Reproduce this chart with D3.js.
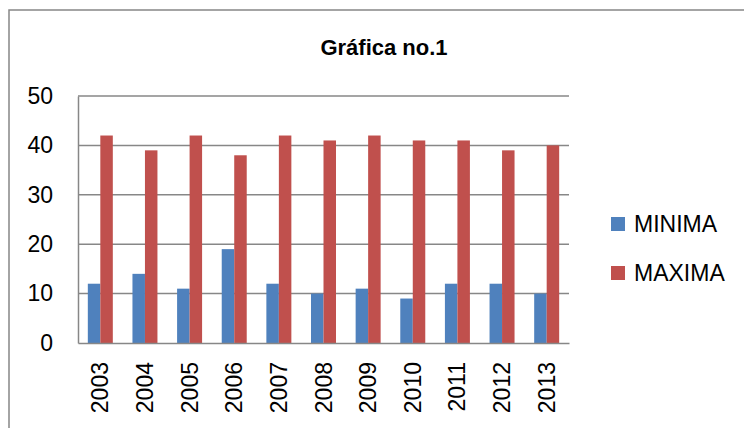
<!DOCTYPE html>
<html>
<head>
<meta charset="utf-8">
<script src="https://cdn.jsdelivr.net/npm/d3@7"></script>
<style>
  body { margin: 0; background: #fff; }
  svg { display: block; }
  text { font-family: "Liberation Sans", Arial, sans-serif; fill: #000; }
</style>
</head>
<body>
<svg id="chart" width="744" height="428"></svg>
<script>
'use strict';
// data
const years = ['2003', '2004', '2005', '2006', '2007', '2008', '2009', '2010', '2011', '2012', '2013'];
const seriesNames = ['MINIMA', 'MAXIMA'];
const minima = [12, 14, 11, 19, 12, 10, 11, 9, 12, 12, 10];
const maxima = [42, 39, 42, 38, 42, 41, 42, 41, 41, 39, 40];
const yTicks = [0, 10, 20, 30, 40, 50];
const colors = ['#4F81BD', '#C0504D'];

const rows = years.map((y, i) => ({ year: y, MINIMA: minima[i], MAXIMA: maxima[i] }));

const svg = d3.select('#chart');
const plot = { left: 78, right: 569, top: 96, bottom: 343 };
const grey = '#878787';

// outer chart frame (runs off the right and bottom edge)
svg.append('rect')
  .attr('x', 9).attr('y', 10)
  .attr('width', 800).attr('height', 500)
  .attr('fill', 'none')
  .attr('stroke', grey)
  .attr('stroke-width', 1.5);

const x = d3.scaleBand()
  .domain(years)
  .range([plot.left, plot.right])
  .padding(0);
const xInner = d3.scaleBand()
  .domain(seriesNames)
  .range([0, x.bandwidth()])
  .paddingInner(0)
  .paddingOuter(0.786);
const y = d3.scaleLinear()
  .domain([0, 50])
  .range([plot.bottom, plot.top]);

// gridlines
svg.append('g')
  .selectAll('line')
  .data(yTicks.filter(t => t > 0))
  .enter().append('line')
    .attr('x1', plot.left).attr('x2', plot.right)
    .attr('y1', d => y(d)).attr('y2', d => y(d))
    .attr('stroke', grey)
    .attr('stroke-width', 1.5);

// y axis
const yAxis = svg.append('g')
  .attr('transform', `translate(${plot.left},0)`)
  .call(d3.axisLeft(y).tickValues(yTicks).tickSize(0).tickPadding(25));
yAxis.select('.domain').attr('stroke', grey).attr('stroke-width', 1.5);
yAxis.selectAll('text')
  .attr('font-size', 23)
  .attr('font-family', '"Liberation Sans", Arial, sans-serif')
  .attr('fill', '#000');

// bars
svg.append('g')
  .selectAll('g')
  .data(seriesNames)
  .enter().append('g')
    .attr('fill', (d, i) => colors[i])
    .selectAll('rect')
    .data(s => rows.map(r => ({ key: s, year: r.year, value: r[s] })))
    .enter().append('rect')
      .attr('x', d => x(d.year) + xInner(d.key))
      .attr('y', d => y(d.value))
      .attr('width', xInner.bandwidth())
      .attr('height', d => y(0) - y(d.value));

// x axis
const xAxis = svg.append('g')
  .attr('transform', `translate(0,${plot.bottom})`)
  .call(d3.axisBottom(x).tickSize(0).tickPadding(0));
xAxis.select('.domain').attr('stroke', grey).attr('stroke-width', 1.5);
xAxis.selectAll('text')
  .attr('font-size', 23)
  .attr('font-family', '"Liberation Sans", Arial, sans-serif')
  .attr('fill', '#000')
  .attr('text-anchor', 'end')
  .attr('dy', '0.35em')
  .attr('transform', 'translate(0,19) rotate(-90)');

// title
svg.append('text')
  .attr('x', 384).attr('y', 55)
  .attr('text-anchor', 'middle')
  .attr('font-size', 22)
  .attr('font-weight', 'bold')
  .text('Gráfica no.1');

// legend
const legend = svg.append('g')
  .selectAll('g')
  .data(seriesNames)
  .enter().append('g')
    .attr('transform', (d, i) => `translate(611,${217 + i * 49})`);
legend.append('rect')
  .attr('width', 14).attr('height', 14)
  .attr('fill', (d, i) => colors[i]);
legend.append('text')
  .attr('x', 23).attr('y', 15)
  .attr('font-size', 23)
  .text(d => d);
</script>
</body>
</html>
